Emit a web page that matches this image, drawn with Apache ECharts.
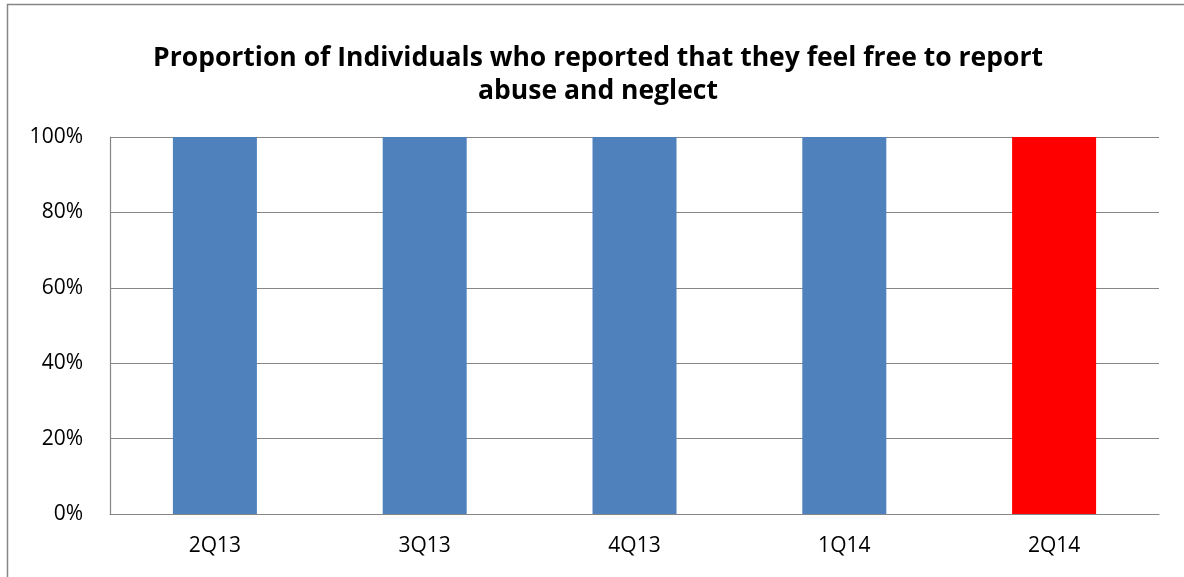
<!DOCTYPE html>
<html>
<head>
<meta charset="utf-8">
<script src="https://cdn.jsdelivr.net/npm/echarts@6/dist/echarts.min.js"></script>
<style>html,body{margin:0;padding:0;background:#fff;}#c{width:1184px;height:577px;}</style>
</head>
<body>
<div id="c"></div>
<script>
const categories = ['2Q13', '3Q13', '4Q13', '1Q14', '2Q14'];
const values = [100, 100, 100, 100, 100];
const barColors = ['#4F81BD', '#4F81BD', '#4F81BD', '#4F81BD', '#FF0000'];
const yTicks = [0, 20, 40, 60, 80, 100];
const titleText = 'Proportion of Individuals who reported that they feel free to report\nabuse and neglect';

const chart = echarts.init(document.getElementById('c'), null, {renderer: 'canvas'});
const font = 'Open Sans';
chart.setOption({
  animation: false,
  backgroundColor: '#fff',
  graphic: [{
    type: 'rect', silent: true, z: -1,
    shape: {x: 7.5, y: 4.5, width: 1300, height: 700},
    style: {fill: 'none', stroke: '#868686', lineWidth: 1.5}
  }],
  title: {
    text: titleText,
    left: 593, top: 37, textAlign: 'center',
    textStyle: {fontFamily: font, fontWeight: 'bold', fontSize: 26.5, lineHeight: 33, color: '#000'}
  },
  grid: {left: 110, right: 25, top: 137, bottom: 63, containLabel: false},
  xAxis: {
    type: 'category', data: categories,
    axisLine: {lineStyle: {color: '#868686', width: 1.2}},
    axisTick: {show: false},
    axisLabel: {fontFamily: font, fontSize: 21, color: '#000', margin: 22}
  },
  yAxis: {
    type: 'value', min: 0, max: 100, interval: 20,
    axisLine: {show: true, lineStyle: {color: '#868686', width: 1.2}},
    axisTick: {show: false},
    splitLine: {lineStyle: {color: '#868686', width: 1.2}},
    axisLabel: {fontFamily: font, fontSize: 21, color: '#000', margin: 27,
      formatter: v => yTicks.includes(v) ? v + '%' : ''}
  },
  series: [{
    type: 'bar', barWidth: 84,
    data: values.map((v, i) => ({value: v, itemStyle: {color: barColors[i]}}))
  }]
});
</script>
</body>
</html>
